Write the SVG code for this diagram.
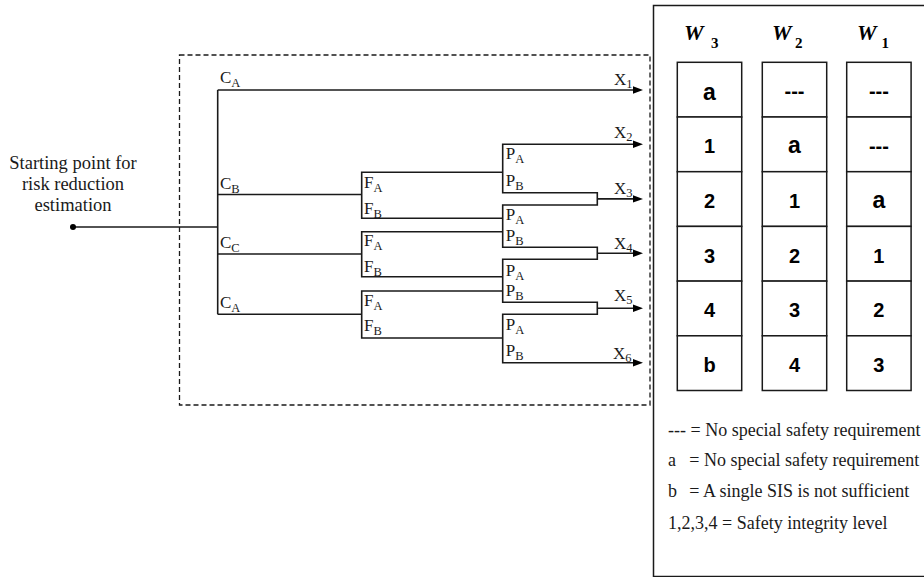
<svg xmlns="http://www.w3.org/2000/svg" width="924" height="577" viewBox="0 0 924 577">
<defs>
<style>
.ln{fill:none;stroke:#1a1a1a;stroke-width:1.6}
.lbl{font-family:"Liberation Serif","Times New Roman",serif;font-size:17px;fill:#1a1a1a}
.sub{font-size:12.5px}
.start{font-family:"Liberation Serif","Times New Roman",serif;font-size:18.5px;fill:#1a1a1a;text-anchor:middle}
.leg{font-family:"Liberation Serif","Times New Roman",serif;font-size:18px;fill:#1a1a1a}
.w{font-family:"Liberation Serif","Times New Roman",serif;font-size:22px;font-weight:bold;font-style:italic;fill:#000}
.wsub{font-family:"Liberation Serif","Times New Roman",serif;font-size:15px;font-weight:bold;fill:#000}
.cell{fill:#fff;stroke:#1a1a1a;stroke-width:1.5}
.ct{font-family:"Liberation Sans",Arial,sans-serif;font-size:20px;font-weight:bold;fill:#000;text-anchor:middle}
.ca{font-size:23px}
</style>
<marker id="arr" markerUnits="userSpaceOnUse" markerWidth="11" markerHeight="9" refX="2" refY="4.5" orient="auto">
<path d="M0,0.8 L10,4.5 L0,8.2 z" fill="#000"/>
</marker>
</defs>
<rect width="924" height="577" fill="#fff"/>

<g id="boundary">
<rect x="179.5" y="55" width="470.5" height="350" fill="none" stroke="#1a1a1a" stroke-width="1.3" stroke-dasharray="5,3"/>
</g>

<g id="connectors">
<path class="ln" d="M73,227 H217.7"/>
<path class="ln" d="M217.7,90 V314.3"/>
<path class="ln" d="M217.7,90 H635" marker-end="url(#arr)"/>
<path class="ln" d="M217.7,194.5 H361.7"/>
<path class="ln" d="M217.7,254 H361.7"/>
<path class="ln" d="M217.7,314.3 H361.7"/>
<path class="ln" d="M502.7,172.3 H361.7 V218.3 H502.7"/>
<path class="ln" d="M502.7,231.7 H361.7 V276.7 H502.7"/>
<path class="ln" d="M502.7,291 H361.7 V338 H502.7"/>
<path class="ln" d="M635,144.3 H502.7 V192.7 H597.3 V205 H502.7 V247.3 H597.3 V259.3 H502.7 V302.3 H597.3 V314.3 H502.7 V362.7 H635" marker-end="url(#arr)"/>
<path class="ln" d="M634,144.3 H635" marker-end="url(#arr)"/>
<path class="ln" d="M597.3,198.9 H635" marker-end="url(#arr)"/>
<path class="ln" d="M597.3,253.3 H635" marker-end="url(#arr)"/>
<path class="ln" d="M597.3,308.3 H635" marker-end="url(#arr)"/>
</g>

<g id="start">
<circle cx="73" cy="227" r="3" fill="#000"/>
<text class="start" x="73" y="169">Starting point for</text>
<text class="start" x="73" y="190">risk reduction</text>
<text class="start" x="73" y="210.7">estimation</text>
</g>

<g id="c-labels">
<text class="lbl" x="220" y="83">C<tspan class="sub" dy="4">A</tspan></text>
<text class="lbl" x="220" y="188.5">C<tspan class="sub" dy="4">B</tspan></text>
<text class="lbl" x="220" y="247.7">C<tspan class="sub" dy="4">C</tspan></text>
<text class="lbl" x="220" y="307.7">C<tspan class="sub" dy="4">A</tspan></text>
</g>

<g id="f-labels">
<text class="lbl" x="364" y="187.7">F<tspan class="sub" dy="4">A</tspan></text>
<text class="lbl" x="364" y="214.3">F<tspan class="sub" dy="4">B</tspan></text>
<text class="lbl" x="364" y="246">F<tspan class="sub" dy="4">A</tspan></text>
<text class="lbl" x="364" y="272.3">F<tspan class="sub" dy="4">B</tspan></text>
<text class="lbl" x="364" y="305.7">F<tspan class="sub" dy="4">A</tspan></text>
<text class="lbl" x="364" y="331">F<tspan class="sub" dy="4">B</tspan></text>
</g>

<g id="p-labels">
<text class="lbl" x="505.7" y="159">P<tspan class="sub" dy="4">A</tspan></text>
<text class="lbl" x="505.7" y="185.7">P<tspan class="sub" dy="4">B</tspan></text>
<text class="lbl" x="505.7" y="220">P<tspan class="sub" dy="4">A</tspan></text>
<text class="lbl" x="505.7" y="240.7">P<tspan class="sub" dy="4">B</tspan></text>
<text class="lbl" x="505.7" y="275.7">P<tspan class="sub" dy="4">A</tspan></text>
<text class="lbl" x="505.7" y="295.7">P<tspan class="sub" dy="4">B</tspan></text>
<text class="lbl" x="505.7" y="330">P<tspan class="sub" dy="4">A</tspan></text>
<text class="lbl" x="505.7" y="356">P<tspan class="sub" dy="4">B</tspan></text>
</g>

<g id="x-labels">
<text class="lbl" x="614" y="85">X<tspan class="sub" dy="3">1</tspan></text>
<text class="lbl" x="614" y="138.3">X<tspan class="sub" dy="3">2</tspan></text>
<text class="lbl" x="614" y="194">X<tspan class="sub" dy="3">3</tspan></text>
<text class="lbl" x="614" y="249.3">X<tspan class="sub" dy="3">4</tspan></text>
<text class="lbl" x="614" y="300.7">X<tspan class="sub" dy="3">5</tspan></text>
<text class="lbl" x="613" y="359">X<tspan class="sub" dy="3">6</tspan></text>
</g>

<g id="table-panel">
<rect x="653.5" y="5.5" width="280" height="571" fill="none" stroke="#1a1a1a" stroke-width="1.5"/>
</g>

<g id="col-w3">
<text class="w" x="684" y="40">W</text><text class="wsub" x="711" y="48.3">3</text>
<rect class="cell" x="677.3" y="62.3" width="64.4" height="54.7"/>
<rect class="cell" x="677.3" y="117" width="64.4" height="54.7"/>
<rect class="cell" x="677.3" y="171.7" width="64.4" height="54.7"/>
<rect class="cell" x="677.3" y="226.4" width="64.4" height="54.7"/>
<rect class="cell" x="677.3" y="281.1" width="64.4" height="54.7"/>
<rect class="cell" x="677.3" y="335.8" width="64.4" height="54.7"/>
<text class="ct" x="709.5" y="100"><tspan class="ca">a</tspan></text>
<text class="ct" x="709.5" y="152.7">1</text>
<text class="ct" x="709.5" y="207.5">2</text>
<text class="ct" x="709.5" y="262.5">3</text>
<text class="ct" x="709.5" y="317">4</text>
<text class="ct" x="709.5" y="372">b</text>
</g>

<g id="col-w2">
<text class="w" x="772" y="40">W</text><text class="wsub" x="795" y="48.3">2</text>
<rect class="cell" x="762.3" y="62.3" width="64.4" height="54.7"/>
<rect class="cell" x="762.3" y="117" width="64.4" height="54.7"/>
<rect class="cell" x="762.3" y="171.7" width="64.4" height="54.7"/>
<rect class="cell" x="762.3" y="226.4" width="64.4" height="54.7"/>
<rect class="cell" x="762.3" y="281.1" width="64.4" height="54.7"/>
<rect class="cell" x="762.3" y="335.8" width="64.4" height="54.7"/>
<text class="ct" x="794.5" y="98">---</text>
<text class="ct" x="794.5" y="153"><tspan class="ca">a</tspan></text>
<text class="ct" x="794.5" y="207.5">1</text>
<text class="ct" x="794.5" y="262.5">2</text>
<text class="ct" x="794.5" y="317">3</text>
<text class="ct" x="794.5" y="371.7">4</text>
</g>

<g id="col-w1">
<text class="w" x="857" y="40">W</text><text class="wsub" x="881.5" y="48.3">1</text>
<rect class="cell" x="846.7" y="62.3" width="64.4" height="54.7"/>
<rect class="cell" x="846.7" y="117" width="64.4" height="54.7"/>
<rect class="cell" x="846.7" y="171.7" width="64.4" height="54.7"/>
<rect class="cell" x="846.7" y="226.4" width="64.4" height="54.7"/>
<rect class="cell" x="846.7" y="281.1" width="64.4" height="54.7"/>
<rect class="cell" x="846.7" y="335.8" width="64.4" height="54.7"/>
<text class="ct" x="878.9" y="98">---</text>
<text class="ct" x="878.9" y="152.7">---</text>
<text class="ct" x="878.9" y="208"><tspan class="ca">a</tspan></text>
<text class="ct" x="878.9" y="262.5">1</text>
<text class="ct" x="878.9" y="317">2</text>
<text class="ct" x="878.9" y="371.7">3</text>
</g>

<g id="legend">
<text class="leg" x="668" y="436">--- = No special safety requirement</text>
<text class="leg" x="668" y="466">a</text><text class="leg" x="689.3" y="466">= No special safety requirement</text>
<text class="leg" x="668" y="497.3">b</text><text class="leg" x="689.3" y="497.3">= A single SIS is not sufficient</text>
<text class="leg" x="668" y="529">1,2,3,4 = Safety integrity level</text>
</g>
</svg>
